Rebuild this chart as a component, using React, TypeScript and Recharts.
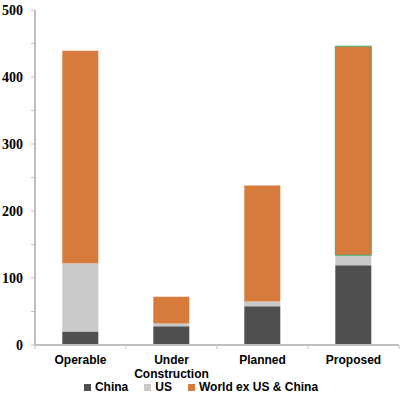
import { BarChart, Bar, XAxis, YAxis, Legend, Cell } from "recharts"

const categories = ["Operable", "Under Construction", "Planned", "Proposed"]
const china = [20, 28, 58, 119]
const us = [102, 4, 7, 15]
const world = [317, 40, 173, 312]
const yTicks = [0, 50, 100, 150, 200, 250, 300, 350, 400, 450, 500]

const seriesNames = ["China", "US", "World ex US & China"]
const seriesColors = ["#4f4f4f", "#c9c9c9", "#d67b3b"]

const data = categories.map((c, i) => ({
  name: c,
  China: china[i],
  US: us[i],
  "World ex US & China": world[i],
}))

const labelLines: Record<string, string[]> = {
  "Under Construction": ["Under", "Construction"],
}

function CategoryTick(props: any) {
  const { x, y, payload, index } = props
  const band = 91
  const lines = labelLines[payload.value] || [payload.value]
  return (
    <g>
      <line x1={x - band / 2} x2={x - band / 2} y1={y - 8} y2={y - 4} stroke="#bfbfbf" />
      {index === categories.length - 1 && (
        <line x1={x + band / 2} x2={x + band / 2} y1={y - 8} y2={y - 4} stroke="#bfbfbf" />
      )}
      <text
        x={x}
        y={y + 11}
        textAnchor="middle"
        fontFamily="Liberation Sans"
        fontWeight="bold"
        fontSize={12}
        fill="#000"
      >
        {lines.map((l: string, i: number) => (
          <tspan key={i} x={x} dy={i === 0 ? 0 : 14}>
            {l}
          </tspan>
        ))}
      </text>
    </g>
  )
}

function ValueTick(props: any) {
  const { x, y, payload } = props
  if (payload.value % 100 !== 0) return null
  return (
    <text
      x={x}
      y={y + 5}
      textAnchor="end"
      fontFamily="Liberation Serif"
      fontWeight="bold"
      fontSize={14}
      fill="#000"
    >
      {payload.value}
    </text>
  )
}

function LegendBox() {
  return (
    <div
      style={{
        display: "flex",
        justifyContent: "center",
        alignItems: "center",
        gap: 16,
        fontFamily: "Liberation Sans",
        fontWeight: "bold",
        fontSize: 12,
        lineHeight: "14px",
        height: 16,
      }}
    >
      {seriesNames.map((n, i) => (
        <span key={n} style={{ display: "flex", alignItems: "center" }}>
          <span
            style={{
              width: 7,
              height: 7,
              background: seriesColors[i],
              marginRight: 4,
              display: "inline-block",
            }}
          />
          {n}
        </span>
      ))}
    </div>
  )
}

export default function App() {
  return (
    <div
      style={{
        position: "absolute",
        left: 0,
        top: 0,
        background: "#fff",
        width: 402,
        height: 396,
      }}
    >
      <BarChart
        width={402}
        height={396}
        data={data}
        margin={{ top: 10, right: 3, bottom: 2, left: 0 }}
        barCategoryGap="30%"
      >
        <XAxis
          dataKey="name"
          interval={0}
          tickLine={false}
          axisLine={{ stroke: "#bfbfbf", strokeWidth: 2 }}
          tick={<CategoryTick />}
          height={33}
        />
        <YAxis
          domain={[0, 500]}
          ticks={yTicks}
          width={35}
          interval={0}
          axisLine={{ stroke: "#bfbfbf", strokeWidth: 2 }}
          tickLine={{ stroke: "#bfbfbf" }}
          tickSize={4}
          tickMargin={8}
          tick={<ValueTick />}
        />
        <Legend
          verticalAlign="bottom"
          height={16}
          wrapperStyle={{ bottom: 1, left: 0, width: 402 }}
          content={<LegendBox />}
        />
        {seriesNames.map((n, s) => (
          <Bar key={n} dataKey={n} stackId="a" fill={seriesColors[s]} isAnimationActive={false}>
            {categories.map((c, i) => (
              <Cell
                key={c}
                stroke={s === 2 && i === categories.length - 1 ? "#3cb371" : undefined}
                strokeWidth={s === 2 && i === categories.length - 1 ? 1 : 0}
              />
            ))}
          </Bar>
        ))}
      </BarChart>
    </div>
  )
}
